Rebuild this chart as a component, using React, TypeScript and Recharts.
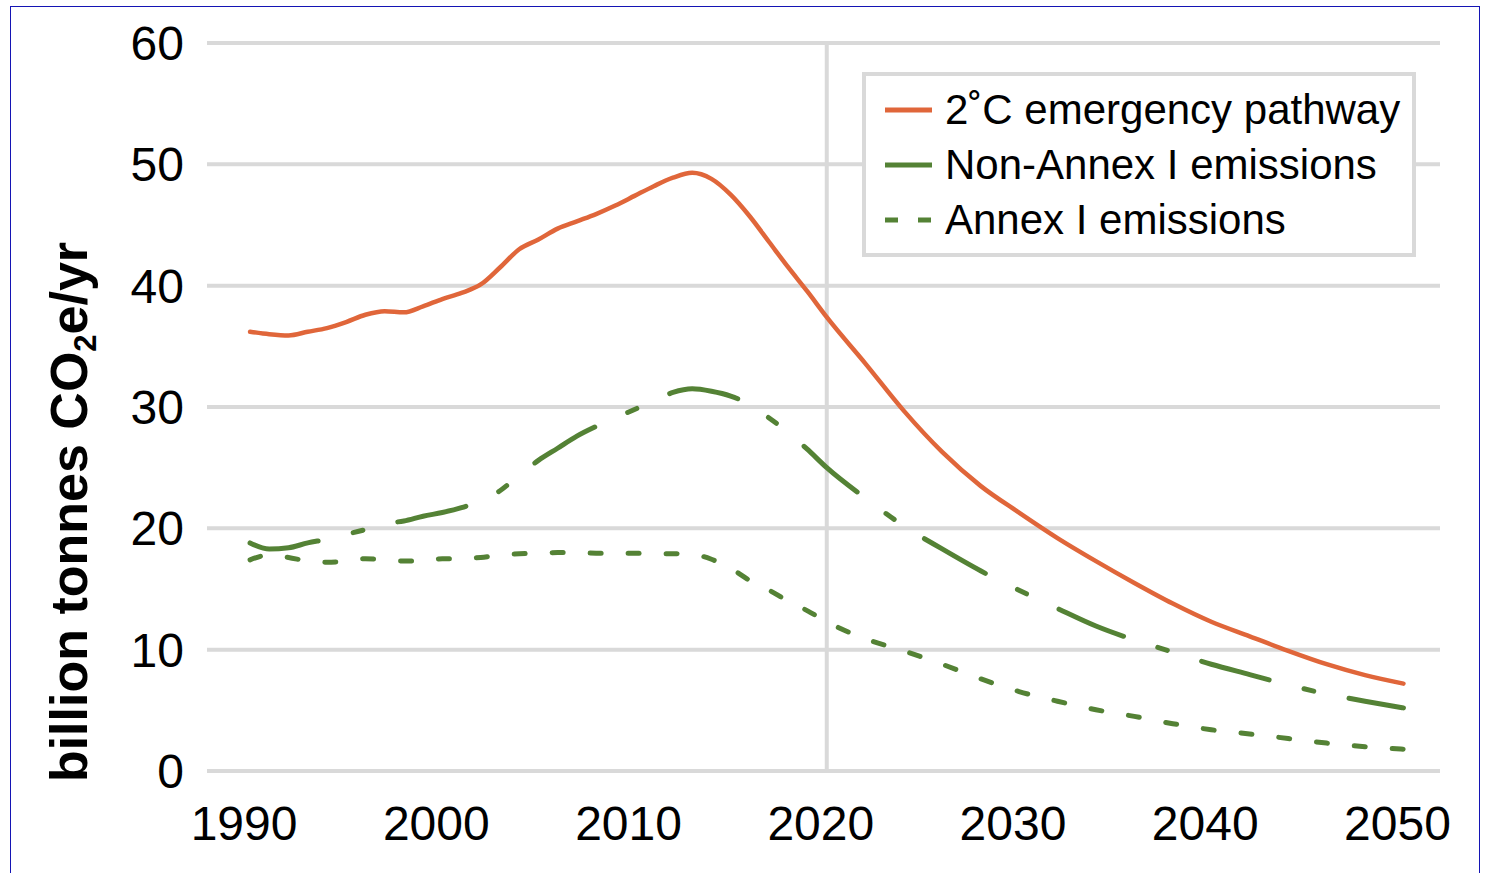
import React from 'react';
import { LineChart, Line, XAxis, YAxis, CartesianGrid, ReferenceLine } from 'recharts';

const years = [
  1990, 1991, 1992, 1993, 1994, 1995, 1996, 1997, 1998, 1999,
  2000, 2001, 2002, 2003, 2004, 2005, 2006, 2007, 2008, 2009,
  2010, 2011, 2012, 2013, 2014, 2015, 2016, 2017, 2018, 2019,
  2020, 2022, 2024, 2026, 2028, 2030, 2032, 2034, 2036, 2038,
  2040, 2042, 2044, 2046, 2048, 2050,
];

const pathway = [
  36.2, 36.0, 35.9, 36.2, 36.5, 37.0, 37.6, 37.9, 37.8, 38.3,
  38.9, 39.4, 40.1, 41.5, 43.0, 43.8, 44.7, 45.3, 45.9, 46.6,
  47.4, 48.2, 48.9, 49.3, 48.8, 47.5, 45.7, 43.6, 41.5, 39.5,
  37.4, 33.6, 29.7, 26.3, 23.5, 21.3, 19.2, 17.3, 15.5, 13.8,
  12.3, 11.1, 9.9, 8.8, 7.9, 7.2,
];

const nonAnnex = [
  18.8, 18.3, 18.4, 18.8, 19.1, 19.5, 19.9, 20.4, 20.6, 21.0,
  21.3, 21.7, 22.3, 23.1, 24.4, 25.6, 26.6, 27.6, 28.4, 29.1,
  29.8, 30.5, 31.2, 31.5, 31.3, 30.9, 30.2, 29.1, 27.9, 26.5,
  25.0, 22.5, 20.2, 18.3, 16.5, 14.9, 13.4, 11.95, 10.8, 9.8,
  8.8, 7.95, 7.1, 6.35, 5.75, 5.2,
];

const annex = [
  17.4, 17.8, 17.6, 17.3, 17.2, 17.3, 17.5, 17.4, 17.3, 17.3,
  17.5, 17.5, 17.6, 17.8, 17.9, 17.95, 18.0, 18.0, 17.95, 17.95,
  17.95, 17.9, 17.9, 17.85, 17.45, 16.7, 15.7, 14.9, 14.0, 13.2,
  12.3, 10.9, 9.9, 8.8, 7.6, 6.55, 5.75, 5.05, 4.5, 3.9,
  3.4, 3.05, 2.68, 2.3, 2.0, 1.8,
];

const xTicks = [1990, 2000, 2010, 2020, 2030, 2040, 2050];
const yTicks = [0, 10, 20, 30, 40, 50, 60];

const data = years.map((year, i) => ({
  year,
  pathway: pathway[i],
  nonAnnex: nonAnnex[i],
  annex: annex[i],
}));

const FONT = '"Liberation Sans", Arial, sans-serif';
const RED = '#e0663a';
const GREEN = '#548235';
const GRID = '#d9d9d9';

const legendItems = [
  { name: '2˚C emergency pathway', color: RED, dash: undefined as string | undefined },
  { name: 'Non-Annex I emissions', color: GREEN, dash: undefined as string | undefined },
  { name: 'Annex I emissions', color: GREEN, dash: '13 20' },
];

// legend floats over the plot, like the original
const LegendBox = () => (
  <div
    style={{
      position: 'absolute',
      left: 862,
      top: 72,
      border: `4px solid ${GRID}`,
      background: '#fff',
      padding: '6px 0 6px 19px',
      width: 527,
      boxSizing: 'content-box',
      fontFamily: FONT,
    }}
  >
    {legendItems.map((item) => (
      <div key={item.name} style={{ display: 'flex', alignItems: 'center', height: 55 }}>
        <svg width={47} height={10} style={{ marginRight: 13 }}>
          <line x1={0} y1={5} x2={47} y2={5} stroke={item.color} strokeWidth={5} strokeDasharray={item.dash} />
        </svg>
        <span style={{ fontSize: 42, color: '#000', whiteSpace: 'nowrap', lineHeight: 1 }}>{item.name}</span>
      </div>
    ))}
  </div>
);

const YLabel = () => (
  <text
    x={87}
    y={512}
    transform="rotate(-90, 87, 512)"
    textAnchor="middle"
    fontFamily={FONT}
    fontWeight="bold"
    fontSize={52}
    fill="#000"
  >
    billion tonnes CO
    <tspan dy={9} fontSize={31}>2</tspan>
    <tspan dy={-9}>e/yr</tspan>
  </text>
);

export default function App() {
  return (
    <div style={{ position: 'absolute', left: 0, top: 0, width: 1490, height: 873, background: '#fff' }}>
      <div
        style={{
          position: 'absolute',
          left: 10,
          top: 6,
          width: 1470,
          height: 900,
          border: '1.5px solid #1414b4',
          boxSizing: 'border-box',
        }}
      />
      <LineChart
        width={1490}
        height={873}
        data={data}
        margin={{ top: 43, right: 50, bottom: 0, left: 0 }}
        style={{ position: 'absolute', left: 0, top: 0 }}
      >
        <CartesianGrid vertical={false} stroke={GRID} strokeWidth={4} />
        <ReferenceLine x={2020} stroke={GRID} strokeWidth={4} />
        <XAxis
          type="number"
          dataKey="year"
          domain={[1987.76, 2051.9]}
          allowDataOverflow
          ticks={xTicks}
          axisLine={false}
          tickLine={false}
          tickSize={0}
          tickMargin={35}
          height={102}
          tick={{ fill: '#000', fontSize: 48, fontFamily: FONT, dx: -6 }}
        />
        <YAxis
          domain={[0, 60]}
          ticks={yTicks}
          axisLine={false}
          tickLine={false}
          tickSize={0}
          tickMargin={23}
          width={207}
          tick={{ fill: '#000', fontSize: 48, fontFamily: FONT }}
          label={<YLabel />}
        />
        <Line
          type="monotone"
          dataKey="annex"
          name="Annex I emissions"
          stroke={GREEN}
          strokeWidth={5}
          strokeDasharray="11 27"
          strokeLinecap="round"
          dot={false}
          isAnimationActive={false}
        />
        <Line
          type="monotone"
          dataKey="nonAnnex"
          name="Non-Annex I emissions"
          stroke={GREEN}
          strokeWidth={5}
          strokeDasharray="70 36 10 36"
          strokeLinecap="round"
          dot={false}
          isAnimationActive={false}
        />
        <Line
          type="monotone"
          dataKey="pathway"
          name="2˚C emergency pathway"
          stroke={RED}
          strokeWidth={4.5}
          strokeLinecap="round"
          dot={false}
          isAnimationActive={false}
        />
      </LineChart>
      <LegendBox />
    </div>
  );
}
